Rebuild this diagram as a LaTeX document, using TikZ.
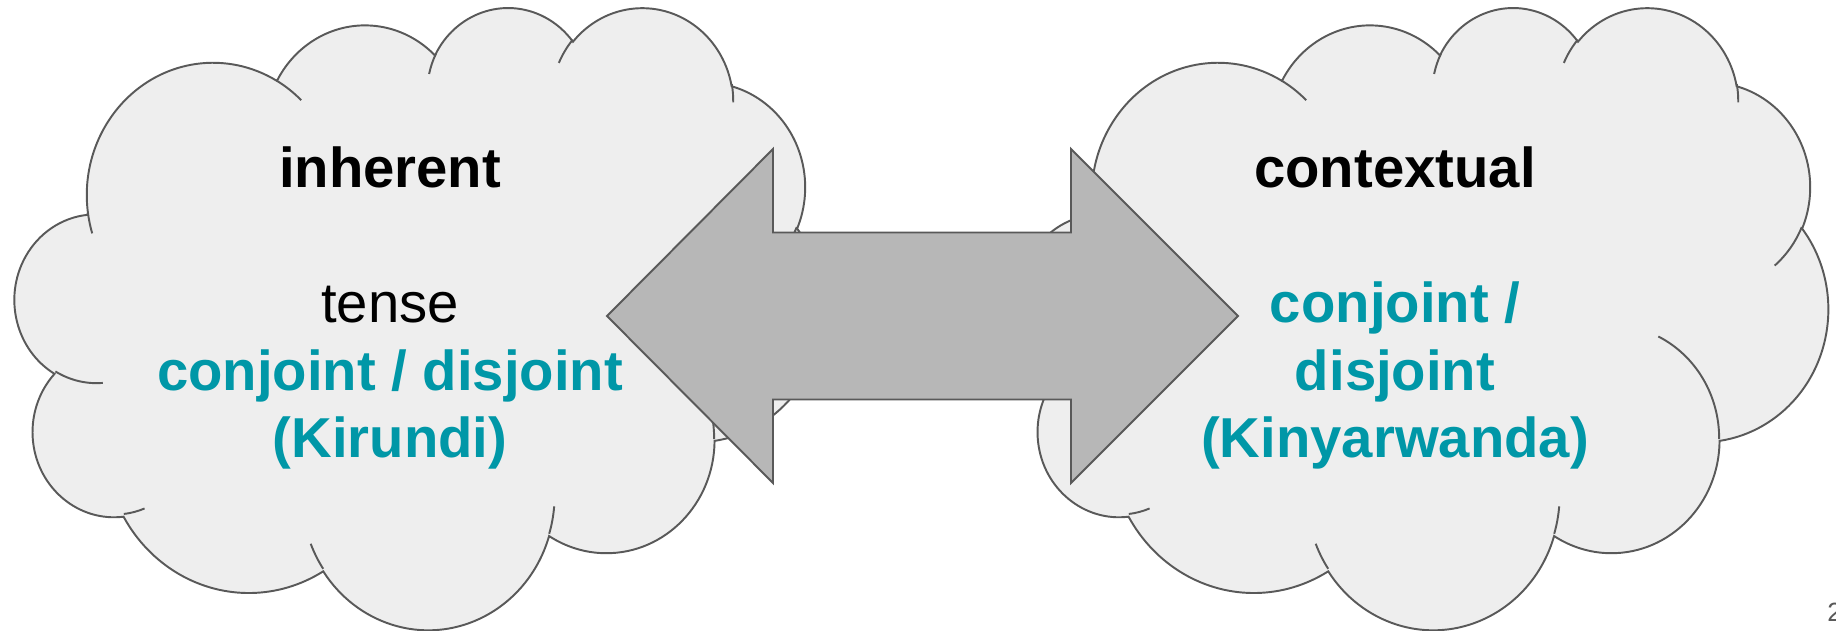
\documentclass[tikz,border=0pt]{standalone}
\usepackage{fontspec}
\setmainfont{Liberation Sans}
\usetikzlibrary{calc}

\definecolor{cloudfill}{HTML}{EEEEEE}
\definecolor{edgegray}{HTML}{595959}
\definecolor{arrowgray}{HTML}{B7B7B7}
\definecolor{kteal}{HTML}{0097A7}

% one lobe of the cloud: x radius, y radius, start angle, sweep (angles seen on the ellipse)
\tikzset{bump/.code n args={4}{%
  \pgfmathsetmacro\bumpS{atan2(#1*sin(#3),#2*cos(#3))}%
  \pgfmathsetmacro\bumpD{mod(atan2(#1*sin(#3+#4),#2*cos(#3+#4))-\bumpS+720,360)}%
  \edef\bumpTmp{\noexpand\pgfkeysalso{insert path={arc[start angle=\bumpS, delta angle=\bumpD, x radius=#1, y radius=#2]}}}%
  \bumpTmp}}

% cloud: #1 = left edge, #2 = width
\newcommand{\drawcloud}[2]{%
\begin{scope}[shift={(#1,6)}, xscale=#2/432, yscale=622/432]
  \filldraw[cloud] (39.00,143.70) [bump={67.53}{91.90}{-190.4875}{123.7805}]
    [bump={53.33}{72.67}{-144.1024}{89.9452}] [bump={43.65}{59.45}{-145.8079}{99.7230}]
    [bump={48.57}{65.95}{-130.9861}{117.2417}] [bump={53.33}{72.73}{-78.7089}{109.0269}]
    [bump={67.75}{92.20}{-46.2673}{130.2690}] [bump={57.85}{78.67}{0.6250}{114.0333}]
    [bump={67.52}{92.15}{22.4516}{115.1726}] [bump={77.20}{105.43}{66.2426}{75.7110}]
    [bump={43.60}{59.18}{-274.9421}{146.7356}] [bump={43.45}{59.45}{-246.8285}{152.5189}] -- cycle;
  %inner arcs
  \draw[cloudline] (46.93,261.77) [bump={43.45}{59.45}{86.7420}{26.4295}]
    (69.28,348.99) [bump={43.60}{59.18}{73.6105}{11.4475}]
    (164.78,390.90) [bump={67.52}{92.15}{137.6242}{14.0811}]
    (288.27,347.51) [bump={67.52}{92.15}{6.4533}{15.9984}]
    (341.29,229.54) [bump={57.85}{78.67}{-70.2924}{70.9174}]
    (417.98,153.54) [bump={53.33}{72.73}{30.3180}{27.7515}]
    (383.24,54.26) [bump={48.57}{65.95}{-13.7443}{14.8589}]
    (290.78,39.52) [bump={48.57}{65.95}{-149.1815}{18.1954}]
    (221.41,47.20) [bump={43.65}{59.45}{-163.4943}{17.6864}]
    (140.00,51.92) [bump={67.53}{91.90}{-66.7070}{12.3194}]
    (41.27,157.89) [bump={67.53}{91.90}{157.6544}{11.8582}];
\end{scope}}

\begin{document}
\begin{tikzpicture}[
  x = 0.01cm, y = -0.01cm,
  font=\fontsize{16}{19}\selectfont,
  cloud/.style={fill=cloudfill, draw=edgegray, line width=0.55pt},
  cloudline/.style={draw=edgegray, line width=0.55pt},
  block/.style={fill=arrowgray, draw=edgegray, line width=0.55pt, line join=miter},
  title/.style={anchor=base, font=\fontsize{16}{19}\selectfont\bfseries},
  plain/.style={anchor=base},
  lang/.style={anchor=base, text=kteal, font=\fontsize{16}{19}\selectfont\bfseries},
  pagenum/.style={anchor=base west, text=edgegray, font=\fontsize{7.5}{9}\selectfont}
]
%general params
\def\ty{316}   %arrow axis
\def\hh{167}   %half height of the heads
\def\sh{83.5}  %half height of the shaft
\useasboundingbox (0,0) rectangle (1836,630);

%clouds
\drawcloud{15}{808}
\drawcloud{1020}{808}

%double arrow
\coordinate (tipL) at (607,\ty);
\coordinate (tipR) at (1238,\ty);
\draw[block] (tipL) -- (773,\ty-\hh) -- (773,\ty-\sh) -- (1071,\ty-\sh) -- (1071,\ty-\hh)
  -- (tipR) -- (1071,\ty+\hh) -- (1071,\ty+\sh) -- (773,\ty+\sh) -- (773,\ty+\hh) -- cycle;

%left cloud text
\node[title] (inh) at (390,187) {inherent};
\node[plain] (tns) at (390,322) {tense};
\node[lang]  (cdl) at (390,390) {conjoint / disjoint};
\node[lang]  (kir) at (390,457) {(Kirundi)};

%right cloud text
\node[title] (ctx) at (1395,187) {contextual};
\node[lang]  (cjr) at (1395,322) {conjoint /};
\node[lang]  (dsj) at (1395,390) {disjoint};
\node[lang]  (kin) at (1395,457) {(Kinyarwanda)};

\node[pagenum] (num) at (1815,621) {2};
\end{tikzpicture}
\end{document}
